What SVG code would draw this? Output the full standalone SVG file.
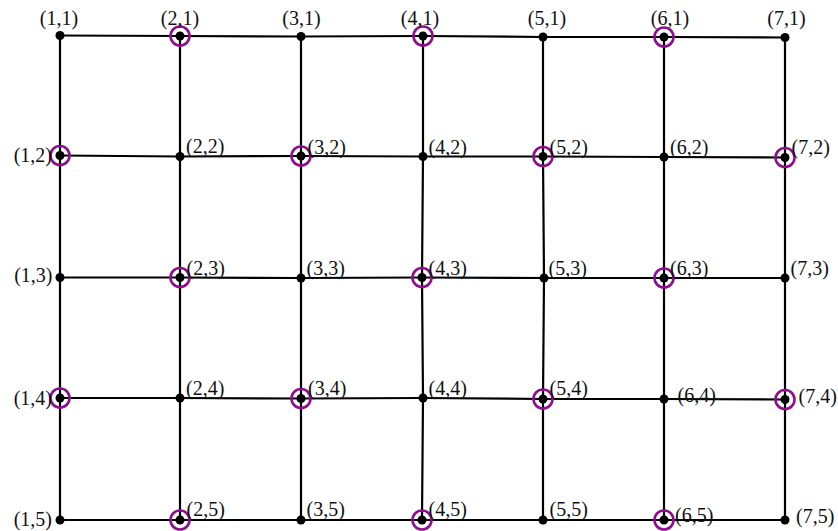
<svg xmlns="http://www.w3.org/2000/svg" width="838" height="531" viewBox="0 0 838 531">
<style>
.e{fill:none;stroke:#000;stroke-width:2.2;stroke-linejoin:round}
.d{fill:#000}
.r{fill:none;stroke:#8e0e8e;stroke-width:2.6}
text{font-family:"Liberation Serif","Times New Roman",serif;font-size:20px;fill:#111}
.m{text-anchor:middle}
.n{text-anchor:end}
</style>
<rect width="838" height="531" fill="#fff"/>
<g id="connectors">
<polyline class="e" points="60,35.5 180,36 301,36.5 423,36 543,37 664,37 785,37.5"/>
<polyline class="e" points="60,155.5 180,156.5 301,156 423,156.5 543,156.5 664,157 785,157.5"/>
<polyline class="e" points="60,277.5 180,277.5 301,278 422,277.5 544,278 664,278 785,278"/>
<polyline class="e" points="60,398 180,398 301,398.5 423,398 543,399 664,399 785,399.5"/>
<polyline class="e" points="60,520 180,520 301,520 422,520 543,520 664,520 785,520"/>
<polyline class="e" points="60,35.5 60,155.5 60,277.5 60,398 60,520"/>
<polyline class="e" points="180,36 180,156.5 180,277.5 180,398 180,520"/>
<polyline class="e" points="301,36.5 301,156 301,278 301,398.5 301,520"/>
<polyline class="e" points="423,36 423,156.5 422,277.5 423,398 422,520"/>
<polyline class="e" points="543,37 543,156.5 544,278 543,399 543,520"/>
<polyline class="e" points="664,37 664,157 664,278 664,399 664,520"/>
<polyline class="e" points="785,37.5 785,157.5 785,278 785,399.5 785,520"/>
</g>
<g id="n11"><circle class="d" cx="60" cy="35.5" r="4.5"/><text class="m" x="59" y="25">(1,1)</text></g>
<g id="n21"><circle class="d" cx="180" cy="36" r="4.5"/><circle class="r" cx="180" cy="36" r="9.5"/><text class="m" x="180" y="25">(2,1)</text></g>
<g id="n31"><circle class="d" cx="301" cy="36.5" r="4.5"/><text class="m" x="301.5" y="25">(3,1)</text></g>
<g id="n41"><circle class="d" cx="423" cy="36" r="4.5"/><circle class="r" cx="423" cy="36" r="9.5"/><text class="m" x="420" y="25">(4,1)</text></g>
<g id="n51"><circle class="d" cx="543" cy="37" r="4.5"/><text class="m" x="547" y="25">(5,1)</text></g>
<g id="n61"><circle class="d" cx="664" cy="37" r="4.5"/><circle class="r" cx="664" cy="37" r="9.5"/><text class="m" x="670" y="25">(6,1)</text></g>
<g id="n71"><circle class="d" cx="785" cy="37.5" r="4.5"/><text class="m" x="786.5" y="25">(7,1)</text></g>

<g id="n12"><circle class="d" cx="60" cy="155.5" r="4.5"/><circle class="r" cx="60" cy="155.5" r="9.5"/><text class="n" x="52" y="162">(1,2)</text></g>
<g id="n22"><circle class="d" cx="180" cy="156.5" r="4.5"/><text x="186" y="153">(2,2)</text></g>
<g id="n32"><circle class="d" cx="301" cy="156" r="4.5"/><circle class="r" cx="301" cy="156" r="9.5"/><text x="307.5" y="153.5">(3,2)</text></g>
<g id="n42"><circle class="d" cx="423" cy="156.5" r="4.5"/><text x="428.5" y="153.5">(4,2)</text></g>
<g id="n52"><circle class="d" cx="543" cy="156.5" r="4.5"/><circle class="r" cx="543" cy="156.5" r="9.5"/><text x="549.5" y="153.5">(5,2)</text></g>
<g id="n62"><circle class="d" cx="664" cy="157" r="4.5"/><text x="670" y="153.5">(6,2)</text></g>
<g id="n72"><circle class="d" cx="785" cy="157.5" r="4.5"/><circle class="r" cx="785" cy="157.5" r="9.5"/><text x="791.5" y="153.5">(7,2)</text></g>

<g id="n13"><circle class="d" cx="60" cy="277.5" r="4.5"/><text class="n" x="52.5" y="282">(1,3)</text></g>
<g id="n23"><circle class="d" cx="180" cy="277.5" r="4.5"/><circle class="r" cx="180" cy="277.5" r="9.5"/><text x="186.5" y="274.5">(2,3)</text></g>
<g id="n33"><circle class="d" cx="301" cy="278" r="4.5"/><text x="306.5" y="274.5">(3,3)</text></g>
<g id="n43"><circle class="d" cx="422" cy="277.5" r="4.5"/><circle class="r" cx="422" cy="277.5" r="9.5"/><text x="428.5" y="274.5">(4,3)</text></g>
<g id="n53"><circle class="d" cx="544" cy="278" r="4.5"/><text x="548.5" y="275">(5,3)</text></g>
<g id="n63"><circle class="d" cx="664" cy="278" r="4.5"/><circle class="r" cx="664" cy="278" r="9.5"/><text x="670" y="274.5">(6,3)</text></g>
<g id="n73"><circle class="d" cx="785" cy="278" r="4.5"/><text x="790.5" y="274.5">(7,3)</text></g>

<g id="n14"><circle class="d" cx="60" cy="398" r="4.5"/><circle class="r" cx="60" cy="398" r="9.5"/><text class="n" x="52" y="405">(1,4)</text></g>
<g id="n24"><circle class="d" cx="180" cy="398" r="4.5"/><text x="186" y="394.5">(2,4)</text></g>
<g id="n34"><circle class="d" cx="301" cy="398.5" r="4.5"/><circle class="r" cx="301" cy="398.5" r="9.5"/><text x="308" y="394.5">(3,4)</text></g>
<g id="n44"><circle class="d" cx="423" cy="398" r="4.5"/><text x="428.5" y="394.5">(4,4)</text></g>
<g id="n54"><circle class="d" cx="543" cy="399" r="4.5"/><circle class="r" cx="543" cy="399" r="9.5"/><text x="549.5" y="395">(5,4)</text></g>
<g id="n64"><circle class="d" cx="664" cy="399" r="4.5"/><text x="677.5" y="401.5">(6,4)</text></g>
<g id="n74"><circle class="d" cx="785" cy="399.5" r="4.5"/><circle class="r" cx="785" cy="399.5" r="9.5"/><text x="798.5" y="402.5">(7,4)</text></g>

<g id="n15"><circle class="d" cx="60" cy="520" r="4.5"/><text class="n" x="52" y="525.5">(1,5)</text></g>
<g id="n25"><circle class="d" cx="180" cy="520" r="4.5"/><circle class="r" cx="180" cy="520" r="9.5"/><text x="186.5" y="516">(2,5)</text></g>
<g id="n35"><circle class="d" cx="301" cy="520" r="4.5"/><text x="306.5" y="516">(3,5)</text></g>
<g id="n45"><circle class="d" cx="422" cy="520" r="4.5"/><circle class="r" cx="422" cy="520" r="9.5"/><text x="428.5" y="516">(4,5)</text></g>
<g id="n55"><circle class="d" cx="543" cy="520" r="4.5"/><text x="549.5" y="516">(5,5)</text></g>
<g id="n65"><circle class="d" cx="664" cy="520" r="4.5"/><circle class="r" cx="664" cy="520" r="9.5"/><text x="675" y="521.5">(6,5)</text></g>
<g id="n75"><circle class="d" cx="785" cy="520" r="4.5"/><text x="796" y="523">(7,5)</text></g>
</svg>
